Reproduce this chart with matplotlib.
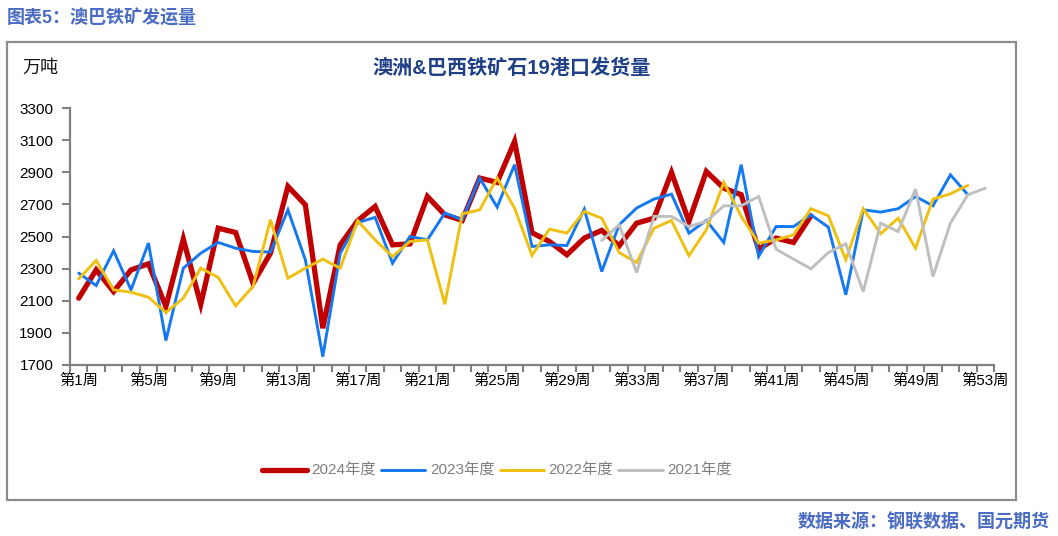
import numpy as np
import matplotlib
matplotlib.use('Agg')
import matplotlib.pyplot as plt
from matplotlib.patches import Rectangle

plt.rcParams['font.family'] = ['Liberation Sans', 'Noto Sans CJK SC', 'DejaVu Sans']

# weekly shipments, 10k tonnes
WEEKS = list(range(1, 54))
Y2024 = [2116, 2292, 2157, 2292, 2330, 2064, 2484, 2078, 2552, 2525,
         2209, 2396, 2812, 2697, 1929, 2448, 2598, 2687, 2448, 2454,
         2749, 2635, 2600, 2864, 2837, 3092, 2523, 2469, 2386, 2490,
         2538, 2442, 2583, 2614, 2899, 2594, 2905, 2801, 2760, 2420,
         2490, 2463, 2629]
Y2023 = [2272, 2195, 2411, 2168, 2459, 1852, 2303, 2396, 2463, 2427,
         2407, 2403, 2666, 2355, 1752, 2396, 2587, 2619, 2334, 2500,
         2479, 2646, 2604, 2864, 2683, 2947, 2438, 2448, 2444, 2670,
         2282, 2573, 2677, 2733, 2764, 2521, 2600, 2463, 2947, 2376,
         2562, 2562, 2635, 2558, 2137, 2666, 2652, 2673, 2749, 2691,
         2884, 2760]
Y2022 = [2236, 2351, 2168, 2153, 2122, 2027, 2116, 2303, 2245, 2068,
         2189, 2604, 2240, 2303, 2359, 2303, 2598, 2479, 2375, 2469,
         2479, 2078, 2641, 2666, 2864, 2677, 2382, 2546, 2521, 2656,
         2614, 2400, 2338, 2552, 2600, 2380, 2542, 2837, 2625, 2459,
         2479, 2510, 2673, 2629, 2355, 2673, 2517, 2614, 2427, 2733,
         2766, 2818]
# 2021 series only starts at week 31
Y2021_START = 31
Y2021 = [2475, 2573, 2276, 2625, 2625, 2562, 2594, 2691, 2691, 2749,
         2421, 2359, 2299, 2400, 2454, 2157, 2583, 2531, 2795, 2251,
         2583, 2760, 2801]

SERIES = [
    ('2024年度', Y2024, 0, '#C00000', 3.8),
    ('2023年度', Y2023, 0, '#1478F0', 2.1),
    ('2022年度', Y2022, 0, '#F0C010', 2.1),
    ('2021年度', Y2021, Y2021_START - 1, '#BFBFBF', 2.1),
]

Y_TICKS = list(range(1700, 3301, 200))
TITLE = '澳洲&巴西铁矿石19港口发货量'
UNIT = '万吨'
HEADER = '图表5：澳巴铁矿发运量'
SOURCE = '数据来源：钢联数据、国元期货'


def pad(values, start):
    out = np.full(len(WEEKS), np.nan)
    out[start:start + len(values)] = values
    return out


def main():
    W, H = 1058, 536
    fig = plt.figure(figsize=(W / 100, H / 100), dpi=100)

    # outer frame
    fig.patches.append(Rectangle((7 / W, 1 - 500 / H), 1009 / W, 458 / H,
                                 transform=fig.transFigure, fill=False,
                                 edgecolor='#8C8C8C', linewidth=1.6))

    ax = fig.add_axes([70 / W, 1 - 365 / H, 924 / W, 257 / H])
    x = np.arange(len(WEEKS))
    for label, vals, start, color, lw in SERIES:
        ax.plot(x, pad(vals, start), color=color, linewidth=lw, label=label,
                solid_capstyle='round', solid_joinstyle='miter')

    ax.set_xlim(-0.5, len(WEEKS) - 0.5)
    ax.set_ylim(Y_TICKS[0], Y_TICKS[-1])
    ax.set_yticks(Y_TICKS)
    ax.set_yticklabels([str(v) for v in Y_TICKS], fontsize=11)

    # category axis: tick marks between weeks, labels every 4 weeks
    ax.set_xticks(np.arange(-0.5, len(WEEKS), 1.0), minor=True)
    ax.set_xticks(x[::4])
    ax.set_xticklabels([f'第{w}周' for w in WEEKS[::4]], fontsize=11)
    ax.tick_params(axis='x', which='major', length=0, pad=6)
    ax.tick_params(axis='x', which='minor', length=5, width=1.5,
                   color='#808080', direction='out')
    ax.tick_params(axis='y', length=6, width=1.5, color='#808080', pad=6)

    for side in ['top', 'right']:
        ax.spines[side].set_visible(False)
    for side in ['left', 'bottom']:
        ax.spines[side].set_color('#808080')
        ax.spines[side].set_linewidth(1.6)

    fig.text(512 / W, 1 - 68 / H, TITLE, ha='center', va='center',
             fontsize=14.5, fontweight='bold', color='#1F3F86')
    fig.text(22 / W, 1 - 68 / H, UNIT, ha='left', va='center',
             fontsize=13, color='#111111')
    fig.text(7 / W, 1 - 18 / H, HEADER, ha='left', va='center',
             fontsize=13, fontweight='bold', color='#4A6CC2')
    fig.text(1050 / W, 1 - 523 / H, SOURCE, ha='right', va='center',
             fontsize=13, fontweight='bold', color='#4A6CC2')

    leg = fig.legend(loc='center', bbox_to_anchor=(497 / W, 1 - 471 / H),
                     ncol=4, frameon=False, fontsize=11, handlelength=2.9,
                     handletextpad=0.3, columnspacing=0.35)
    for t in leg.get_texts():
        t.set_color('#7F7F7F')

    fig.savefig('out.png', dpi=100)
    plt.close(fig)


if __name__ == '__main__':
    main()
